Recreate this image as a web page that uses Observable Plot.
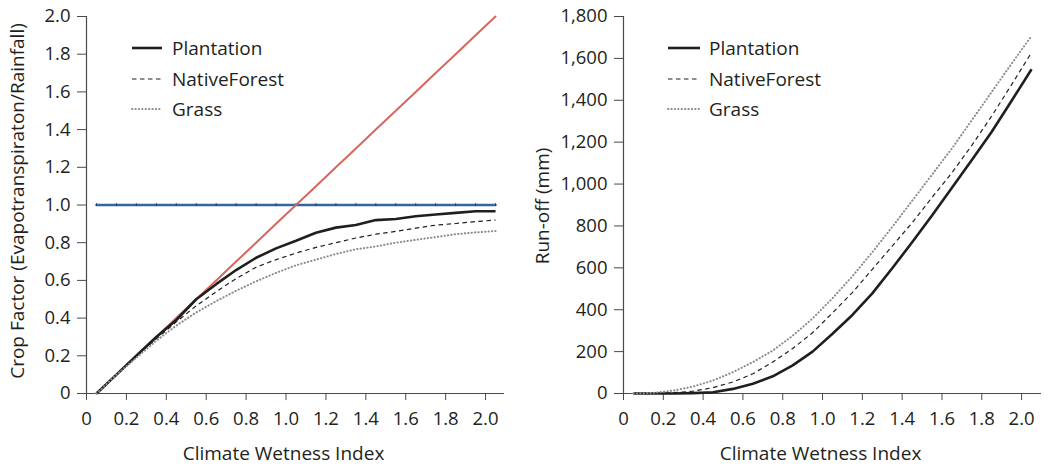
<!DOCTYPE html>
<html>
<head>
<meta charset="utf-8">
<script src="https://cdn.jsdelivr.net/npm/d3@7"></script>
<script src="https://cdn.jsdelivr.net/npm/@observablehq/plot@0.6"></script>
<style>
  html, body { margin: 0; padding: 0; background: #fff; }
  #wrap { position: relative; width: 1044px; height: 466px; display: flex; }
  .panel { position: relative; }
  .legend { position: absolute; top: 0; left: 0; pointer-events: none; }
</style>
</head>
<body>
<div id="wrap">
  <div class="panel" id="left"></div>
  <div class="panel" id="right"></div>
</div>
<script>
// Climate wetness index sample points
const wetness = [0.05, 0.15, 0.25, 0.35, 0.45, 0.55, 0.65, 0.75, 0.85, 0.95, 1.05,
                 1.15, 1.25, 1.35, 1.45, 1.55, 1.65, 1.75, 1.85, 1.95, 2.05];

// Crop factor (evapotranspiration / rainfall)
const cropPlantation = [0, 0.1, 0.2, 0.3, 0.39, 0.5, 0.58, 0.655, 0.72, 0.77, 0.81,
                        0.853, 0.88, 0.894, 0.92, 0.926, 0.94, 0.95, 0.958, 0.967, 0.967];
const cropNativeForest = [0, 0.1, 0.2, 0.29, 0.38, 0.465, 0.54, 0.61, 0.67, 0.71, 0.745,
                          0.775, 0.80, 0.825, 0.845, 0.86, 0.877, 0.893, 0.902, 0.912, 0.92];
const cropGrass = [0, 0.1, 0.19, 0.28, 0.36, 0.43, 0.49, 0.545, 0.595, 0.64, 0.68,
                   0.71, 0.74, 0.765, 0.78, 0.80, 0.815, 0.83, 0.845, 0.855, 0.862];
const energyLimit = [0, 0.1, 0.2, 0.3, 0.4, 0.5, 0.6, 0.7, 0.8, 0.9, 1.0,
                     1.1, 1.2, 1.3, 1.4, 1.5, 1.6, 1.7, 1.8, 1.9, 2.0];
const waterLimit = [1, 1, 1, 1, 1, 1, 1, 1, 1, 1, 1, 1, 1, 1, 1, 1, 1, 1, 1, 1, 1];

// Run-off (mm)
const runoffPlantation = [0, 0, 0, 2, 6, 22, 47, 82, 134, 200, 285,
                          375, 478, 598, 722, 850, 982, 1115, 1250, 1398, 1548];
const runoffNativeForest = [0, 1, 4, 11, 28, 55, 94, 150, 215, 290, 385,
                            482, 593, 704, 815, 936, 1054, 1185, 1325, 1475, 1628];
const runoffGrass = [0, 3, 14, 33, 62, 102, 150, 205, 276, 358, 455,
                     560, 675, 795, 920, 1045, 1170, 1305, 1440, 1575, 1707];

// Tick values
const xTicks = [0, 0.2, 0.4, 0.6, 0.8, 1.0, 1.2, 1.4, 1.6, 1.8, 2.0];
const cropTicks = [0, 0.2, 0.4, 0.6, 0.8, 1.0, 1.2, 1.4, 1.6, 1.8, 2.0];
const runoffTicks = [0, 200, 400, 600, 800, 1000, 1200, 1400, 1600, 1800];

const landUses = ["Plantation", "NativeForest", "Grass"];

const FONT = "'Open Sans', 'Noto Sans', sans-serif";
const INK = "#231f20";
const AXIS = "#4a4a4a";

const lineStyles = {
  Plantation:   {stroke: "#1f1f1f", strokeWidth: 2.6, strokeDasharray: null, strokeLinecap: "butt"},
  NativeForest: {stroke: "#1f1f1f", strokeWidth: 1.2, strokeDasharray: "4.5,3.5", strokeLinecap: "butt"},
  Grass:        {stroke: "#8a8a8a", strokeWidth: 2, strokeDasharray: "0.3,3.1", strokeLinecap: "round"}
};

const decimal = d => d === 0 ? "0" : d3.format(".1f")(d);
const thousands = d3.format(",");

function rows(values) {
  return wetness.map((x, i) => ({x, y: values[i]}));
}

function seriesLines(byUse) {
  return landUses.map(use => Plot.line(rows(byUse[use]), {
    x: "x", y: "y",
    stroke: lineStyles[use].stroke,
    strokeWidth: lineStyles[use].strokeWidth,
    strokeDasharray: lineStyles[use].strokeDasharray,
    strokeLinecap: lineStyles[use].strokeLinecap,
    strokeLinejoin: "round"
  }));
}

function commonAxes(yTicks, yFormat, yTitle, titleDx, titleDy) {
  return [
    Plot.axisX({ticks: xTicks, tickFormat: decimal, tickSize: 7, tickPadding: 11,
                stroke: AXIS, label: null}),
    Plot.axisY({ticks: yTicks, tickFormat: yFormat, tickSize: 9, tickPadding: 7,
                stroke: AXIS, label: null}),
    Plot.ruleY([0], {stroke: AXIS, strokeWidth: 1.2}),
    Plot.ruleX([0], {stroke: AXIS, strokeWidth: 1.2}),
    Plot.text(["Climate Wetness Index"], {frameAnchor: "bottom", dy: 66, dx: -12,
                textAnchor: "middle", fill: INK, fontSize: 19}),
    Plot.text([yTitle], {frameAnchor: "left", rotate: -90, dx: titleDx, dy: titleDy,
                textAnchor: "middle", fill: INK, fontSize: 19})
  ];
}

// Left panel: crop factor
const left = Plot.plot({
  width: 520, height: 466,
  marginLeft: 86, marginRight: 16, marginTop: 16, marginBottom: 73,
  style: {fontFamily: FONT, fontSize: "18.5px", color: INK, background: "#fff"},
  x: {domain: [0, 2.095]},
  y: {domain: [0, 2]},
  marks: [
    ...commonAxes(cropTicks, decimal, "Crop Factor (Evapotranspiraton/Rainfall)", -69, -4),
    Plot.line(rows(waterLimit), {x: "x", y: "y", stroke: "#3566a0", strokeWidth: 2.4}),
    Plot.ruleX(rows(waterLimit), {x: "x", y1: d => d.y - 0.008, y2: d => d.y + 0.008,
                stroke: "#1d3f6e", strokeWidth: 0.8}),
    Plot.line(rows(energyLimit), {x: "x", y: "y", stroke: "#d8665d", strokeWidth: 2}),
    ...seriesLines({Plantation: cropPlantation, NativeForest: cropNativeForest, Grass: cropGrass})
  ]
});

// Right panel: run-off
const right = Plot.plot({
  width: 524, height: 466,
  marginLeft: 103, marginRight: 3, marginTop: 16, marginBottom: 73,
  style: {fontFamily: FONT, fontSize: "18.5px", color: INK, background: "#fff"},
  x: {domain: [0, 2.1]},
  y: {domain: [0, 1800]},
  marks: [
    ...commonAxes(runoffTicks, thousands, "Run-off (mm)", -81, 1),
    ...seriesLines({Plantation: runoffPlantation, NativeForest: runoffNativeForest, Grass: runoffGrass})
  ]
});

document.getElementById("left").appendChild(left);
document.getElementById("right").appendChild(right);

// In-plot legends
function legend(container, x0, x1, xText) {
  const rowsY = [48, 79, 109];
  const svg = d3.select(container).append("svg")
    .attr("class", "legend").attr("width", 524).attr("height", 140)
    .style("font-family", FONT).style("font-size", "19px");
  landUses.forEach((use, i) => {
    const s = lineStyles[use];
    svg.append("line")
      .attr("x1", x0).attr("x2", x1).attr("y1", rowsY[i]).attr("y2", rowsY[i])
      .attr("stroke", s.stroke).attr("stroke-width", s.strokeWidth)
      .attr("stroke-dasharray", s.strokeDasharray)
      .attr("stroke-linecap", s.strokeLinecap);
    svg.append("text")
      .attr("x", xText).attr("y", rowsY[i]).attr("dy", "0.35em")
      .attr("fill", INK).text(use);
  });
}
legend(document.getElementById("left"), 132, 162, 172);
legend(document.getElementById("right"), 148, 180, 189);
</script>
</body>
</html>
